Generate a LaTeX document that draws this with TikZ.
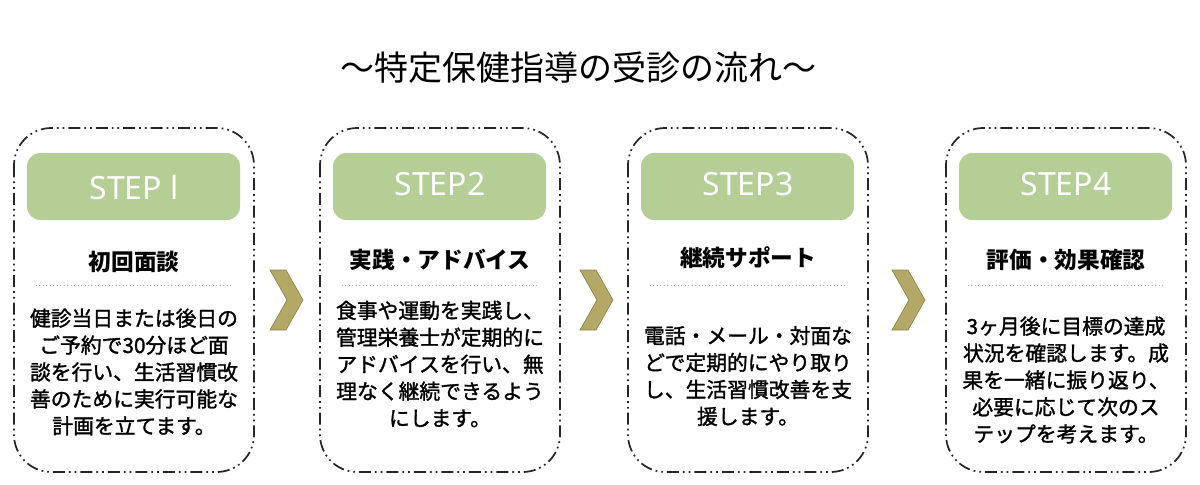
\documentclass[tikz,border=0pt]{standalone}
\usepackage{fontspec}
\setmainfont{Noto Sans CJK JP}
\newfontfamily\stepfont{Noto Sans}
\newfontfamily\bodyfont[FakeBold=1.5]{Noto Sans CJK JP}
\definecolor{hdr}{HTML}{B4CE96}
\definecolor{chev}{HTML}{B3A866}
\definecolor{chevd}{HTML}{8F844A}
\begin{document}
\begin{tikzpicture}[x=1pt,y=-1pt,
 box/.style={draw=black!85,line width=1.3pt,rounded corners=28pt,dash pattern=on 9pt off 3pt on 1.3pt off 3pt on 1.3pt off 3pt},
 hdr/.style={fill=hdr,rounded corners=10pt,draw=none},
 steptxt/.style={text=white,font=\stepfont\fontsize{24}{24}\selectfont},
 head/.style={font=\bfseries\fontsize{17}{17}\selectfont},
 body/.style={align=center,font=\bodyfont\fontsize{15.6}{20.2}\selectfont},
 sep/.style={draw=black!30,line width=0.6pt,dotted},
 chv/.style={fill=chev,draw=chevd,line width=0.5pt}]
\useasboundingbox (0,0) rectangle (900,363.75);
\begin{scope}[x=0.75pt,y=-0.75pt]
\node[font=\fontsize{25.5}{25.5}\selectfont] (title) at (578,68) {～特定保健指導の受診の流れ～};
\foreach \n/\x in {1/14,2/320,3/628,4/946}{
 \draw[box] (\x,128) rectangle ++(240,344);
 \fill[hdr] (\x+13,153) rectangle ++(213,67);
 \draw[sep] (\x+22,285) -- ++(196,0);
}
\node[steptxt] (s1) at (134,187) {STEP l};
\node[steptxt] (s2) at (440,184) {STEP2};
\node[steptxt] (s3) at (748,184) {STEP3};
\node[steptxt] (s4) at (1066,184) {STEP4};
\node[head] (h1) at (134,262) {初回面談};
\node[head] (h2) at (440,260) {実践・アドバイス};
\node[head] (h3) at (748,258) {継続サポート};
\node[head] (h4) at (1066,260) {評価・効果確認};
\node[body] (b1) at (134,372) {健診当日または後日の\\ご予約で30分ほど面\\談を行い、生活習慣改\\善のために実行可能な\\計画を立てます。};
\node[body] (b2) at (440,364) {食事や運動を実践し、\\管理栄養士が定期的に\\アドバイスを行い、無\\理なく継続できるよう\\にします。};
\node[body] (b3) at (748,376) {電話・メール・対面な\\どで定期的にやり取り\\し、生活習慣改善を支\\援します。};
\node[body] (b4) at (1066,380) {3ヶ月後に目標の達成\\状況を確認します。成\\果を一緒に振り返り、\\必要に応じて次のス\\テップを考えます。};
\foreach \x/\y in {270/300,580/300,892/300}{
 \draw[chv] (\x,\y-30) -- (\x+16,\y-30) -- (\x+33,\y) -- (\x+16,\y+30) -- (\x,\y+30) -- (\x+17,\y) -- cycle;
}
\end{scope}
\end{tikzpicture}
\end{document}
